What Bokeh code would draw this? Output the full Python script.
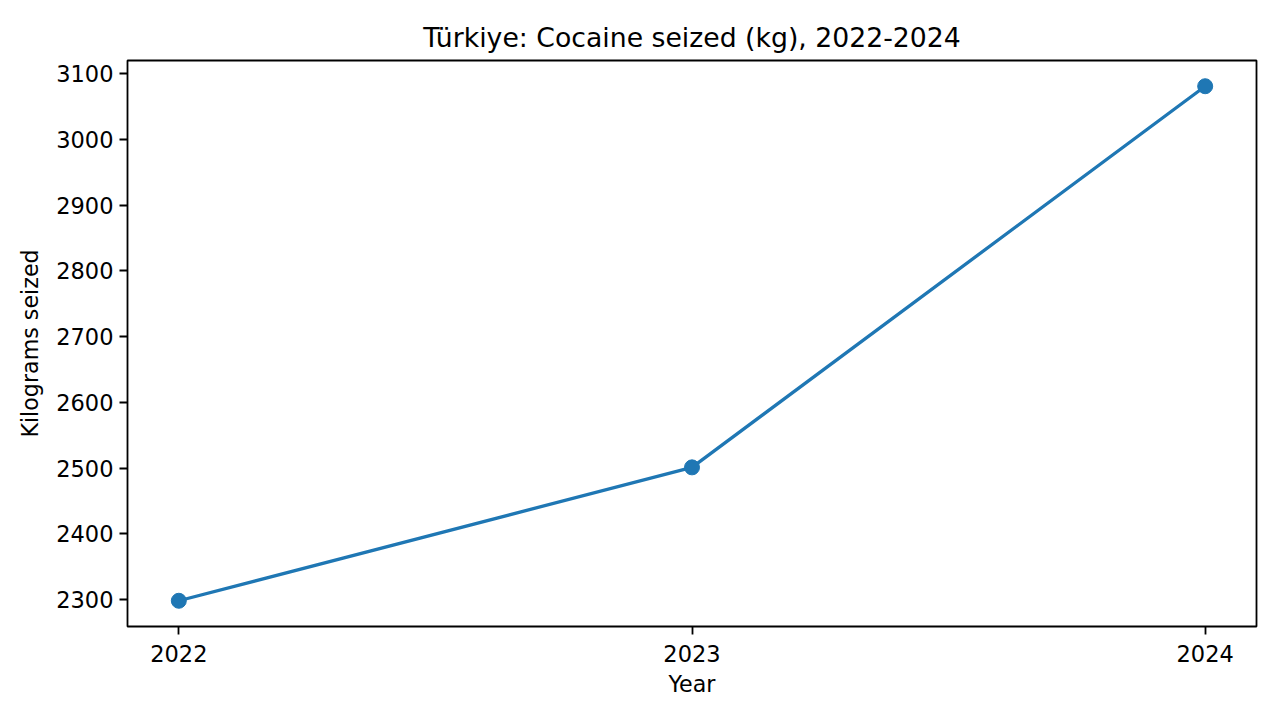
from bokeh.embed import file_html
from bokeh.models import ColumnDataSource, FixedTicker, Range1d
from bokeh.plotting import figure
from bokeh.resources import INLINE

years = [2022, 2023, 2024]
cocaine_kg = [2298, 2501, 3081]
y_ticks = [2300, 2400, 2500, 2600, 2700, 2800, 2900, 3000, 3100]

FONT = "DejaVu Sans"
BLUE = "#1f77b4"

source = ColumnDataSource(data=dict(year=years, kg=cocaine_kg))

# matplotlib-like 5% margins around the data
x_pad = (max(years) - min(years)) * 0.05
y_pad = (max(cocaine_kg) - min(cocaine_kg)) * 0.05

p = figure(
    frame_width=1129, frame_height=566,
    min_border_left=127, min_border_right=8, min_border_top=60, min_border_bottom=86,
    x_range=Range1d(min(years) - x_pad, max(years) + x_pad),
    y_range=Range1d(min(cocaine_kg) - y_pad, max(cocaine_kg) + y_pad),
    title="Türkiye: Cocaine seized (kg), 2022-2024",
    x_axis_label="Year", y_axis_label="Kilograms seized",
    toolbar_location=None, output_backend="svg")

p.line(x="year", y="kg", source=source, line_color=BLUE, line_width=3.3)
p.scatter(x="year", y="kg", source=source, size=15, fill_color=BLUE, line_color=BLUE)

p.title.text_font = FONT
p.title.text_font_size = "26.7px"
p.title.text_font_style = "normal"
p.title.align = "center"
p.title.text_color = "black"
p.title.standoff = 15

p.xaxis.ticker = FixedTicker(ticks=years)
p.yaxis.ticker = FixedTicker(ticks=y_ticks)
p.xaxis.minor_tick_line_color = None
p.yaxis.minor_tick_line_color = None

for ax in (p.xaxis, p.yaxis):
    ax.major_label_text_font = FONT
    ax.major_label_text_font_size = "22.5px"
    ax.major_label_text_color = "black"
    ax.axis_label_text_font = FONT
    ax.axis_label_text_font_size = "22.2px"
    ax.axis_label_text_font_style = "normal"
    ax.axis_label_text_color = "black"
    ax.major_tick_in = 0
    ax.major_tick_out = 8
    ax.major_tick_line_width = 1.8
    ax.major_tick_line_color = "black"
    ax.axis_line_color = None

p.xaxis.major_label_standoff = 10
p.xaxis.axis_label_standoff = 6
p.yaxis.major_label_standoff = 6
p.yaxis.axis_label_standoff = 10

p.grid.grid_line_color = None
p.outline_line_color = "black"
p.outline_line_width = 1.8
p.outline_line_alpha = 1.0

open("out.html", "w").write(file_html(p, INLINE))
